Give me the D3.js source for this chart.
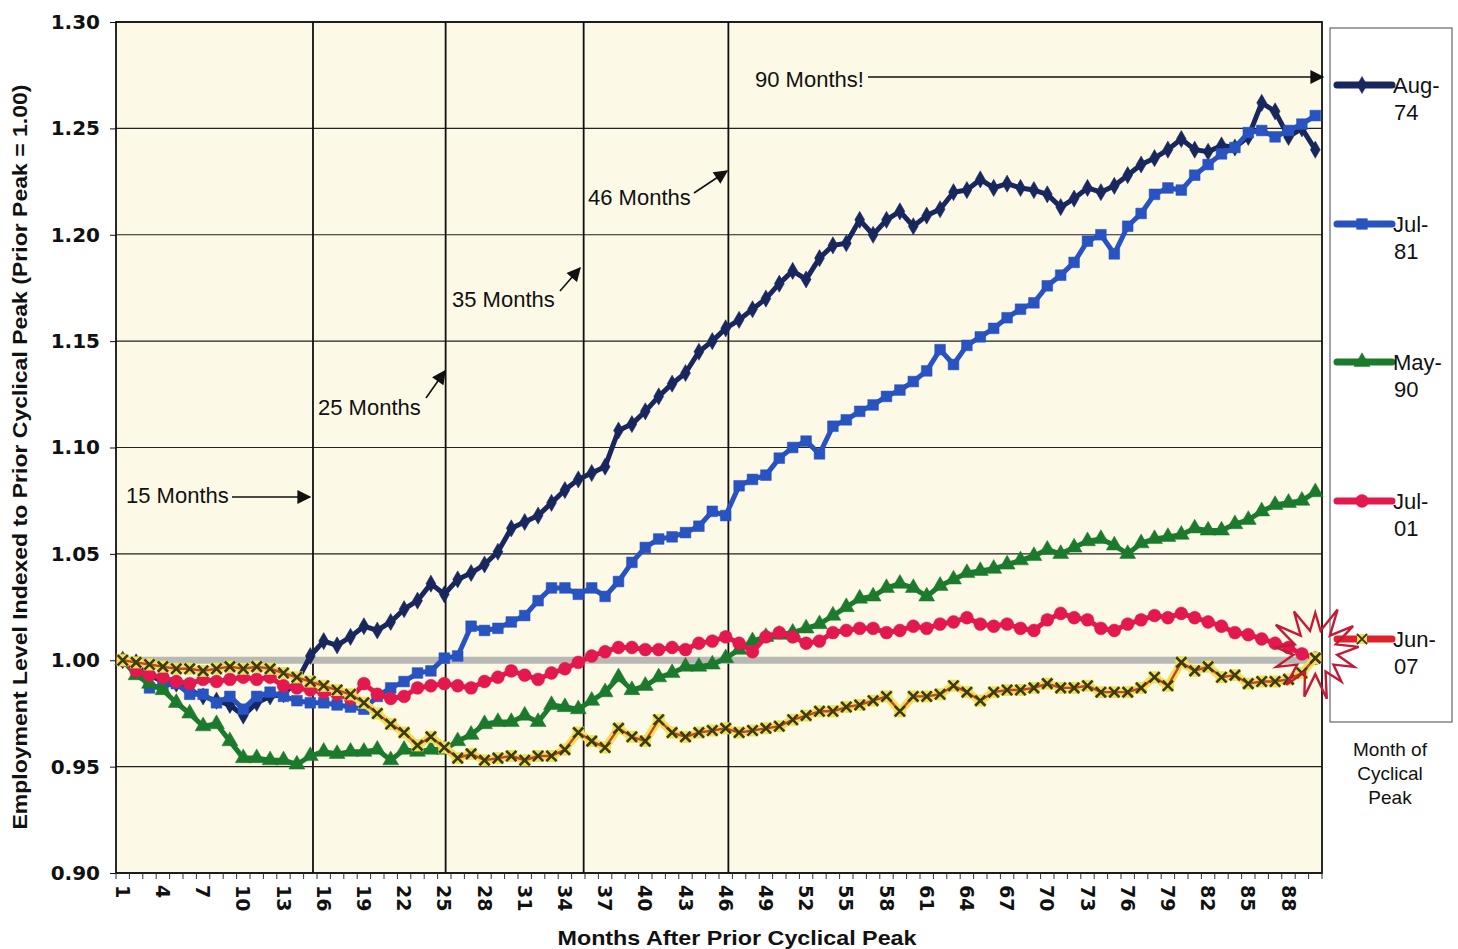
<!DOCTYPE html>
<html>
<head>
<meta charset="utf-8">
<script src="https://cdn.jsdelivr.net/npm/d3@7"></script>
<style>
  html, body { margin: 0; padding: 0; background: #ffffff; }
  svg { display: block; font-family: "Liberation Sans", Arial, sans-serif; }
</style>
</head>
<body>
<svg id="chart" width="1458" height="949"></svg>
<script>
// ---------------- DATA ----------------
const months = d3.range(1, 91);
const xTickLabels = [1,4,7,10,13,16,19,22,25,28,31,34,37,40,43,46,49,52,55,58,61,64,67,70,73,76,79,82,85,88];
const yTicks = [0.90, 0.95, 1.00, 1.05, 1.10, 1.15, 1.20, 1.25, 1.30];
const seriesNames = ["Aug-74", "Jul-81", "May-90", "Jul-01", "Jun-07"];

const aug74 = [1.000,0.999,0.993,0.990,0.989,0.986,0.983,0.981,0.979,0.974,
  0.980,0.983,0.984,0.990,1.002,1.009,1.007,1.011,1.016,1.014,
  1.018,1.024,1.028,1.036,1.031,1.038,1.041,1.045,1.051,1.062,
  1.065,1.068,1.074,1.080,1.085,1.088,1.091,1.108,1.111,1.117,
  1.124,1.130,1.135,1.145,1.150,1.156,1.160,1.165,1.170,1.177,
  1.183,1.179,1.189,1.195,1.196,1.207,1.200,1.207,1.211,1.204,
  1.209,1.212,1.220,1.221,1.226,1.222,1.224,1.222,1.221,1.219,
  1.213,1.217,1.222,1.220,1.223,1.228,1.233,1.236,1.240,1.245,
  1.240,1.239,1.242,1.241,1.246,1.262,1.258,1.246,1.250,1.240];

const jul81 = [1.000,0.996,0.987,0.988,0.989,0.984,0.984,0.980,0.983,0.977,
  0.983,0.985,0.983,0.981,0.980,0.980,0.979,0.978,0.977,0.983,
  0.987,0.990,0.994,0.995,1.001,1.002,1.016,1.014,1.015,1.018,
  1.021,1.028,1.034,1.034,1.031,1.034,1.030,1.037,1.046,1.053,
  1.057,1.058,1.060,1.063,1.070,1.068,1.082,1.085,1.087,1.095,
  1.100,1.103,1.097,1.110,1.113,1.117,1.120,1.124,1.127,1.131,
  1.136,1.146,1.139,1.148,1.152,1.156,1.161,1.165,1.168,1.176,
  1.181,1.187,1.197,1.200,1.191,1.204,1.210,1.219,1.222,1.221,
  1.228,1.233,1.238,1.241,1.248,1.249,1.246,1.249,1.252,1.256];

const may90 = [1.000,0.993,0.989,0.986,0.980,0.975,0.969,0.970,0.962,0.954,
  0.954,0.953,0.953,0.951,0.955,0.957,0.956,0.957,0.957,0.958,
  0.953,0.958,0.957,0.958,0.958,0.962,0.965,0.970,0.971,0.971,
  0.974,0.971,0.979,0.978,0.977,0.981,0.985,0.992,0.986,0.988,
  0.992,0.994,0.997,0.997,0.998,1.001,1.005,1.009,1.011,1.012,
  1.013,1.015,1.017,1.021,1.025,1.029,1.030,1.034,1.036,1.034,
  1.030,1.035,1.038,1.041,1.042,1.043,1.045,1.047,1.049,1.052,
  1.050,1.053,1.056,1.057,1.054,1.050,1.055,1.057,1.058,1.059,
  1.062,1.061,1.061,1.064,1.066,1.070,1.073,1.074,1.075,1.079];

const jul01 = [1.000,0.995,0.993,0.992,0.990,0.989,0.991,0.990,0.991,0.992,
  0.991,0.992,0.988,0.987,0.986,0.985,0.984,0.982,0.989,0.984,
  0.982,0.983,0.987,0.988,0.989,0.988,0.987,0.990,0.992,0.995,
  0.993,0.991,0.994,0.996,0.999,1.002,1.004,1.006,1.006,1.005,
  1.005,1.006,1.005,1.008,1.009,1.011,1.008,1.004,1.011,1.013,
  1.011,1.008,1.009,1.013,1.014,1.015,1.015,1.013,1.014,1.016,
  1.015,1.017,1.018,1.020,1.017,1.016,1.017,1.015,1.014,1.019,
  1.022,1.020,1.019,1.015,1.014,1.017,1.019,1.021,1.020,1.022,
  1.020,1.018,1.016,1.013,1.012,1.010,1.008,1.006,1.003,1.001];

const jun07 = [1.000,0.999,0.998,0.997,0.996,0.996,0.995,0.996,0.997,0.996,
  0.997,0.996,0.994,0.992,0.990,0.988,0.986,0.984,0.980,0.975,
  0.970,0.966,0.960,0.964,0.959,0.954,0.956,0.953,0.954,0.955,
  0.953,0.955,0.955,0.958,0.966,0.962,0.959,0.968,0.964,0.962,
  0.972,0.966,0.964,0.966,0.967,0.968,0.966,0.967,0.968,0.969,
  0.972,0.974,0.976,0.976,0.978,0.979,0.981,0.983,0.976,0.983,
  0.983,0.984,0.988,0.985,0.981,0.985,0.986,0.986,0.987,0.989,
  0.987,0.987,0.988,0.985,0.985,0.985,0.987,0.992,0.988,0.999,
  0.995,0.997,0.992,0.993,0.989,0.990,0.990,0.991,0.994,1.001];

const markerMonths = [15.2, 25.1, 35.4, 46.2];
const annotations = [
  {text: "15 Months", tx: 126, ty: 495, x1: 232, y1: 497, x2: 310, y2: 497},
  {text: "25 Months", tx: 318, ty: 407, x1: 426, y1: 398, x2: 445, y2: 371},
  {text: "35 Months", tx: 452, ty: 299, x1: 560, y1: 291, x2: 580, y2: 268},
  {text: "46 Months", tx: 588, ty: 197, x1: 694, y1: 193, x2: 727, y2: 171},
  {text: "90 Months!", tx: 755, ty: 79, x1: 868, y1: 77, x2: 1323, y2: 77}
];

// ---------------- SETUP ----------------
const svg = d3.select("#chart");
const L = 116, R = 1322, T = 22, B = 873;
const x = d3.scaleLinear().domain([0.5, 90.5]).range([L, R]);
const y = d3.scaleLinear().domain([0.90, 1.30]).range([B, T]);

const defs = svg.append("defs");
defs.append("marker").attr("id", "arr").attr("viewBox", "0 0 10 10")
  .attr("refX", 9).attr("refY", 5).attr("markerWidth", 15).attr("markerHeight", 14)
  .attr("markerUnits", "userSpaceOnUse").attr("orient", "auto")
  .append("path").attr("d", "M0,0 L10,5 L0,10 z").attr("fill", "#111");

// plot background
svg.append("rect").attr("x", L).attr("y", T).attr("width", R - L).attr("height", B - T)
  .attr("fill", "#fcf9e6");

// horizontal gridlines
svg.append("g").selectAll("line").data(yTicks).join("line")
  .attr("x1", L).attr("x2", R).attr("y1", d => y(d)).attr("y2", d => y(d))
  .attr("stroke", "#222").attr("stroke-width", 1.2);

// vertical month markers
svg.append("g").selectAll("line").data(markerMonths).join("line")
  .attr("x1", d => x(d)).attr("x2", d => x(d)).attr("y1", T).attr("y2", B)
  .attr("stroke", "#111").attr("stroke-width", 1.8);

// 1.00 reference line
svg.append("line").attr("x1", L).attr("x2", R).attr("y1", y(1.0)).attr("y2", y(1.0))
  .attr("stroke", "#b8b8b4").attr("stroke-width", 7);

// frame
svg.append("rect").attr("x", L).attr("y", T).attr("width", R - L).attr("height", B - T)
  .attr("fill", "none").attr("stroke", "#111").attr("stroke-width", 1.8);

// y axis
const yAxis = d3.axisLeft(y).tickValues(yTicks).tickFormat(d3.format(".2f")).tickSize(6).tickPadding(10);
const gy = svg.append("g").attr("transform", `translate(${L},0)`).call(yAxis);
gy.select(".domain").remove();
gy.selectAll("text").attr("font-size", 20).attr("font-weight", "bold").attr("fill", "#111")
  .attr("font-family", "'DejaVu Sans', sans-serif");
gy.selectAll("line").attr("stroke", "#111");

// x axis: minor ticks on band boundaries
svg.append("g").selectAll("line").data(d3.range(0, 91)).join("line")
  .attr("x1", d => x(d + 0.5)).attr("x2", d => x(d + 0.5)).attr("y1", B).attr("y2", B + 6)
  .attr("stroke", "#333").attr("stroke-width", 1);
svg.append("g").selectAll("text").data(xTickLabels).join("text")
  .attr("transform", d => `translate(${x(d) - 7},${B + 12}) rotate(90)`)
  .attr("font-size", 19).attr("font-weight", "bold").attr("fill", "#111")
  .attr("font-family", "'DejaVu Sans', sans-serif")
  .attr("text-anchor", "start")
  .text(d => d);

// axis titles
svg.append("text").attr("x", 737).attr("y", 945).attr("text-anchor", "middle")
  .attr("font-size", 21).attr("font-weight", "bold").attr("fill", "#111")
  .attr("textLength", 359).attr("lengthAdjust", "spacingAndGlyphs")
  .text("Months After Prior Cyclical Peak");
svg.append("text").attr("transform", "translate(27,457) rotate(-90)").attr("text-anchor", "middle")
  .attr("font-size", 21).attr("font-weight", "bold").attr("fill", "#111")
  .attr("textLength", 745).attr("lengthAdjust", "spacingAndGlyphs")
  .text("Employment Level Indexed to Prior Cyclical Peak (Prior Peak = 1.00)");

// ---------------- SERIES ----------------
const styles = [
  {data: aug74, color: "#18275e", width: 5, sym: d3.symbolDiamond, size: 85},
  {data: jul81, color: "#2853c0", width: 5, sym: d3.symbolSquare, size: 115},
  {data: may90, color: "#1b7a2c", width: 5, sym: d3.symbolTriangle, size: 110},
  {data: jul01, color: "#e3184f", width: 5, sym: d3.symbolCircle, size: 130},
  {data: jun07, color: "#c4452c", width: 2.4, sym: d3.symbolTimes, size: 70, halo: "#ece35a", mcolor: "#3c3a12"}
];

const line = d3.line().x(d => x(d.m)).y(d => y(d.v)).defined(d => d.v != null);

styles.forEach((s, i) => {
  const pts = months.map((m, k) => ({m, v: s.data[k]})).filter(d => d.v != null);
  const g = svg.append("g");
  if (s.halo) {
    g.append("path").datum(pts).attr("d", line).attr("fill", "none")
      .attr("stroke", s.halo).attr("stroke-width", 8).attr("stroke-linejoin", "round");
    g.selectAll("rect.h").data(pts).join("rect")
      .attr("x", d => x(d.m) - 6).attr("y", d => y(d.v) - 6).attr("width", 12).attr("height", 12)
      .attr("fill", s.halo);
  }
  g.append("path").datum(pts).attr("d", line).attr("fill", "none")
    .attr("stroke", s.color).attr("stroke-width", s.width).attr("stroke-linejoin", "round");
  const sym = d3.symbol().type(s.sym).size(s.size);
  g.selectAll("path.m").data(pts).join("path").attr("class", "m")
    .attr("transform", d => `translate(${x(d.m)},${y(d.v)})`)
    .attr("d", sym)
    .attr("fill", s.mcolor ? "none" : s.color)
    .attr("stroke", s.mcolor || s.color)
    .attr("stroke-width", s.mcolor ? 2.6 : 0.5);
});

// ---------------- ANNOTATIONS ----------------
const ga = svg.append("g");
annotations.forEach(a => {
  ga.append("text").attr("x", a.tx).attr("y", a.ty + 8).attr("font-size", 22).attr("fill", "#111").text(a.text);
  ga.append("line").attr("x1", a.x1).attr("y1", a.y1).attr("x2", a.x2).attr("y2", a.y2)
    .attr("stroke", "#111").attr("stroke-width", 1.6).attr("marker-end", "url(#arr)");
});

// ---------------- LEGEND ----------------
svg.append("rect").attr("x", 1330).attr("y", 28).attr("width", 122).attr("height", 694)
  .attr("fill", "#ffffff").attr("stroke", "#666").attr("stroke-width", 1.2);
const legY = [85, 224, 362, 501, 639];
styles.forEach((s, i) => {
  const g = svg.append("g");
  const yy = legY[i];
  if (s.halo) {
    g.append("line").attr("x1", 1337).attr("x2", 1392).attr("y1", yy).attr("y2", yy)
      .attr("stroke", "#e0202a").attr("stroke-width", 7).attr("stroke-linecap", "round");
    g.append("rect").attr("x", 1357).attr("y", yy - 5).attr("width", 10).attr("height", 10).attr("fill", s.halo);
  } else {
    g.append("line").attr("x1", 1337).attr("x2", 1392).attr("y1", yy).attr("y2", yy)
      .attr("stroke", s.color).attr("stroke-width", 7).attr("stroke-linecap", "round");
  }
  g.append("path").attr("transform", `translate(1362,${yy})`)
    .attr("d", d3.symbol().type(s.sym).size(s.size))
    .attr("fill", s.mcolor ? "none" : s.color).attr("stroke", s.mcolor || s.color).attr("stroke-width", s.mcolor ? 2 : 0.5);
  const parts = seriesNames[i].split("-");
  g.append("text").attr("x", 1393).attr("y", yy + 8).attr("font-size", 22).attr("fill", "#111").text(parts[0] + "-");
  g.append("text").attr("x", 1394).attr("y", yy + 35).attr("font-size", 22).attr("fill", "#111").text(parts[1]);
});
const legTitle = ["Month of", "Cyclical", "Peak"];
svg.append("g").selectAll("text").data(legTitle).join("text")
  .attr("x", 1390).attr("y", (d, i) => 756 + i * 24).attr("text-anchor", "middle")
  .attr("font-size", 19).attr("fill", "#111").text(d => d);

// ---------------- STARBURST ----------------
const cx0 = x(90), cy0 = y(jun07[89]) - 6;
const nSp = 13, rO = 48, rI = 22;
const starPts = [];
for (let k = 0; k < nSp * 2; k++) {
  const ang = (k / (nSp * 2)) * 2 * Math.PI - Math.PI / 2;
  const r = k % 2 === 0 ? rO * (0.82 + 0.18 * ((k * 7) % 5) / 4) : rI;
  starPts.push([cx0 + r * Math.cos(ang), cy0 + r * Math.sin(ang)]);
}
svg.append("path").attr("d", d3.line()(starPts) + "Z")
  .attr("fill", "none").attr("stroke", "#c41a35").attr("stroke-width", 2.4).attr("stroke-linejoin", "miter");
</script>
</body>
</html>
